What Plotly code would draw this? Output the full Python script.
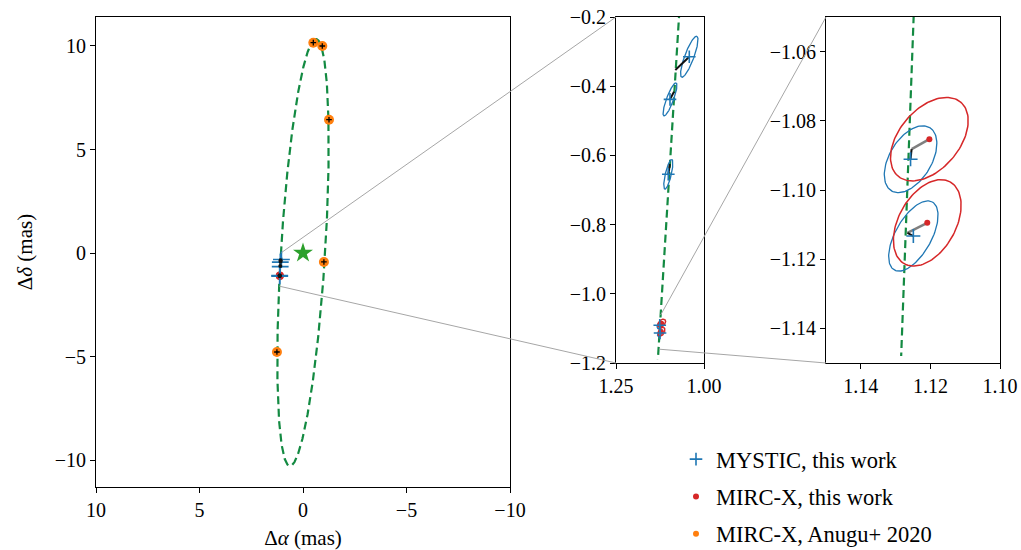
import numpy as np
import plotly.graph_objects as go

# ---------------- data ----------------
# MYSTIC, this work: positions (mas), error ellipses and model positions
mystic_alpha = [1.0418, 1.0966, 1.1014, 1.1257, 1.1249]
mystic_delta = [-0.3147, -0.4380, -0.6546, -1.0911, -1.1133]
mystic_err_major = [0.063, 0.0507, 0.044, 0.01066, 0.01124]
mystic_err_minor = [0.013, 0.010, 0.0085, 0.00605, 0.00519]
mystic_err_pa = [-20, -20, -13, -31, -29]
mystic_pred_alpha = [1.0815, 1.0852, 1.0968, 1.1254, 1.1266]
mystic_pred_delta = [-0.3532, -0.4159, -0.6250, -1.0882, -1.1124]

# MIRC-X, this work
mircx_alpha = [1.1203, 1.1209]
mircx_delta = [-1.0853, -1.1095]
mircx_err_major = [0.01398, 0.01354]
mircx_err_minor = [0.00865, 0.00821]
mircx_err_pa = [-40, -29]
mircx_pred_alpha = [1.1254, 1.1266]
mircx_pred_delta = [-1.0882, -1.1124]

# MIRC-X, Anugu+ 2020
anugu_alpha = [-0.498, -0.932, -1.256, -1.010, 1.260]
anugu_delta = [10.16, 10.00, 6.44, -0.43, -4.78]

# primary star
primary_alpha = [0.0]
primary_delta = [0.0]

# orbit (main panel): centre, half height, half width at centre, shear
orbit_center = [0.0, 0.025]
orbit_half_height = 10.31
orbit_half_width = 1.07
orbit_shear = -0.0611
# orbit segments as seen in the zoom panels
orbit_mid_alpha = [1.0698, 1.1310]
orbit_mid_delta = [-0.18, -1.19]
orbit_zoom_alpha = [1.1248, 1.1284]
orbit_zoom_delta = [-1.0495, -1.1480]

# connector anchors (data coordinates of the source panel)
conn_main_alpha = [1.03, 1.145]
conn_main_delta = [0.03, -1.60]
conn_mid_alpha = [1.123, 1.128]
conn_mid_delta = [-1.061, -1.160]

# tick values
main_ticks = [-10, -5, 0, 5, 10]
mid_xticks = [1.25, 1.00]
mid_yticks = [-1.2, -1.0, -0.8, -0.6, -0.4, -0.2]
zoom_xticks = [1.14, 1.12, 1.10]
zoom_yticks = [-1.14, -1.12, -1.10, -1.08, -1.06]

# ---------------- styles / layout geometry ----------------
W, H = 1021, 550
BLUE, RED, ORANGE, GREEN, ORBIT = "#1f77b4", "#d62728", "#ff7f0e", "#2ca02c", "#138a42"
FONT = "Liberation Serif"

dom = {
    "x": [96 / W, 510 / W], "y": [1 - 487 / H, 1 - 17 / H],
    "x2": [616 / W, 704 / W], "y2": [1 - 363 / H, 1 - 17 / H],
    "x3": [826 / W, 1000 / W], "y3": [1 - 363 / H, 1 - 17 / H],
}
rng = {
    "x": [10, -10], "y": [-11.30, 11.40],
    "x2": [1.25, 1.00], "y2": [-1.2, -0.2],
    "x3": [1.15, 1.10], "y3": [-1.15, -1.05],
}


def ellipse(ca, cd, a, b, pa_deg, n=120):
    t = np.linspace(0, 2 * np.pi, n)
    pa = np.deg2rad(pa_deg)
    al = ca + a * np.cos(t) * np.sin(pa) + b * np.sin(t) * np.cos(pa)
    de = cd + a * np.cos(t) * np.cos(pa) - b * np.sin(t) * np.sin(pa)
    return al, de


fig = go.Figure()


def add_panel(xa, ya, orbit_a, orbit_d, cross_size, red_size, main=False):
    fig.add_trace(go.Scatter(x=orbit_a, y=orbit_d, mode="lines", xaxis=xa, yaxis=ya,
                             line=dict(color=ORBIT, width=2.2, dash="8px,4.5px"),
                             showlegend=False, hoverinfo="skip"))
    # error ellipses
    for i in range(len(mystic_alpha)):
        ea, ed = ellipse(mystic_alpha[i], mystic_delta[i], mystic_err_major[i],
                         mystic_err_minor[i], mystic_err_pa[i])
        fig.add_trace(go.Scatter(x=ea, y=ed, mode="lines", xaxis=xa, yaxis=ya,
                                 line=dict(color=BLUE, width=1.3), showlegend=False,
                                 hoverinfo="skip"))
    for i in range(len(mircx_alpha)):
        ea, ed = ellipse(mircx_alpha[i], mircx_delta[i], mircx_err_major[i],
                         mircx_err_minor[i], mircx_err_pa[i])
        fig.add_trace(go.Scatter(x=ea, y=ed, mode="lines", xaxis=xa, yaxis=ya,
                                 line=dict(color=RED, width=1.5), showlegend=False,
                                 hoverinfo="skip"))
    # residual lines
    for i in range(len(mircx_alpha)):
        fig.add_trace(go.Scatter(x=[mircx_alpha[i], mircx_pred_alpha[i]],
                                 y=[mircx_delta[i], mircx_pred_delta[i]], mode="lines",
                                 xaxis=xa, yaxis=ya, line=dict(color="#7f7f7f", width=2.5),
                                 showlegend=False, hoverinfo="skip"))
    for i in range(len(mystic_alpha)):
        fig.add_trace(go.Scatter(x=[mystic_alpha[i], mystic_pred_alpha[i]],
                                 y=[mystic_delta[i], mystic_pred_delta[i]], mode="lines",
                                 xaxis=xa, yaxis=ya, line=dict(color="#111111", width=2),
                                 showlegend=False, hoverinfo="skip"))
    if main:
        fig.add_trace(go.Scatter(x=anugu_alpha, y=anugu_delta, mode="markers", xaxis=xa, yaxis=ya,
                                 marker=dict(color=ORANGE, size=10), showlegend=False,
                                 hoverinfo="skip"))
        fig.add_trace(go.Scatter(x=anugu_alpha, y=anugu_delta, mode="markers", xaxis=xa, yaxis=ya,
                                 marker=dict(symbol="cross-thin", size=4,
                                             line=dict(color="black", width=1.3)),
                                 showlegend=False, hoverinfo="skip"))
        fig.add_trace(go.Scatter(x=primary_alpha, y=primary_delta, mode="markers", xaxis=xa,
                                 yaxis=ya, marker=dict(symbol="star", color=GREEN, size=15),
                                 showlegend=False, hoverinfo="skip"))
    fig.add_trace(go.Scatter(x=mircx_alpha, y=mircx_delta, mode="markers", xaxis=xa, yaxis=ya,
                             marker=dict(color=RED, size=red_size), showlegend=False,
                             hoverinfo="skip"))
    fig.add_trace(go.Scatter(x=mystic_alpha, y=mystic_delta, mode="markers", xaxis=xa, yaxis=ya,
                             marker=dict(symbol="cross-thin", size=cross_size,
                                         line=dict(color=BLUE, width=1.6)),
                             showlegend=False, hoverinfo="skip"))
    if main:
        fig.add_trace(go.Scatter(x=mystic_pred_alpha + mircx_pred_alpha,
                                 y=mystic_pred_delta + mircx_pred_delta, mode="markers",
                                 xaxis=xa, yaxis=ya, marker=dict(color="#111111", size=4),
                                 showlegend=False, hoverinfo="skip"))


# main orbit curve
s = np.linspace(0, 2 * np.pi, 600)
orb_a = orbit_center[0] + orbit_shear * orbit_half_height * np.cos(s) + orbit_half_width * np.sin(s)
orb_d = orbit_center[1] + orbit_half_height * np.cos(s)

add_panel("x", "y", orb_a, orb_d, 12, 8, main=True)
add_panel("x2", "y2", orbit_mid_alpha, orbit_mid_delta, 9, 5)
add_panel("x3", "y3", orbit_zoom_alpha, orbit_zoom_delta, 10, 6)

# legend-only entries
fig.add_trace(go.Scatter(x=[None], y=[None], mode="markers", name="MYSTIC, this work",
                         marker=dict(symbol="cross-thin", size=9, line=dict(color=BLUE, width=1.6)),
                         legendgroup="a"))
fig.add_trace(go.Scatter(x=[None], y=[None], mode="markers", name="MIRC-X, this work",
                         marker=dict(color=RED, size=6), legendgroup="b"))
fig.add_trace(go.Scatter(x=[None], y=[None], mode="markers", name="MIRC-X, Anugu+ 2020",
                         marker=dict(color=ORANGE, size=6), legendgroup="c"))


# connector lines (paper coordinates derived from data anchors)
def to_paper(ax, v):
    r0, r1 = rng[ax]
    d0, d1 = dom[ax]
    return d0 + (v - r0) / (r1 - r0) * (d1 - d0)


shapes = []
mid_corners = [(rng["x2"][0], rng["y2"][1]), (rng["x2"][0], rng["y2"][0])]
for i in range(2):
    shapes.append(dict(type="line", xref="paper", yref="paper",
                       x0=to_paper("x", conn_main_alpha[i]), y0=to_paper("y", conn_main_delta[i]),
                       x1=to_paper("x2", mid_corners[i][0]), y1=to_paper("y2", mid_corners[i][1]),
                       line=dict(color="#a6a6a6", width=1)))
zoom_corners = [(rng["x3"][0], rng["y3"][1]), (rng["x3"][0], rng["y3"][0])]
for i in range(2):
    shapes.append(dict(type="line", xref="paper", yref="paper",
                       x0=to_paper("x2", conn_mid_alpha[i]), y0=to_paper("y2", conn_mid_delta[i]),
                       x1=to_paper("x3", zoom_corners[i][0]), y1=to_paper("y3", zoom_corners[i][1]),
                       line=dict(color="#a6a6a6", width=1)))

axis_common = dict(showgrid=False, zeroline=False, showline=True, mirror=True, automargin=False,
                   linecolor="black", linewidth=1, ticks="outside", ticklen=5,
                   tickcolor="black", tickwidth=1, tickfont=dict(family=FONT, size=20, color="black"))

fig.update_layout(
    width=W, height=H, margin=dict(l=0, r=0, t=0, b=0, autoexpand=False),
    paper_bgcolor="white", plot_bgcolor="white",
    font=dict(family=FONT, size=20, color="black"),
    xaxis=dict(domain=dom["x"], range=rng["x"], anchor="y", tickvals=main_ticks,
               title=dict(text="Δ<i>α</i> (mas)", font=dict(size=21), standoff=11), **axis_common),
    yaxis=dict(domain=dom["y"], range=rng["y"], anchor="x", tickvals=main_ticks,
               title=dict(text="Δ<i>δ</i> (mas)", font=dict(size=21), standoff=16), **axis_common),
    xaxis2=dict(domain=dom["x2"], range=rng["x2"], anchor="y2", tickvals=mid_xticks,
                tickformat=".2f", **axis_common),
    yaxis2=dict(domain=dom["y2"], range=rng["y2"], anchor="x2", tickvals=mid_yticks,
                tickformat=".1f", **axis_common),
    xaxis3=dict(domain=dom["x3"], range=rng["x3"], anchor="y3", tickvals=zoom_xticks,
                tickformat=".2f", **axis_common),
    yaxis3=dict(domain=dom["y3"], range=rng["y3"], anchor="x3", tickvals=zoom_yticks,
                tickformat=".2f", **axis_common),
    shapes=shapes,
    showlegend=True,
    legend=dict(x=676 / W, y=1 - 438 / H, xanchor="left", yanchor="top",
                font=dict(family=FONT, size=22.5), bgcolor="rgba(0,0,0,0)",
                tracegroupgap=5, itemclick=False),
)

fig.write_html("out.html")
